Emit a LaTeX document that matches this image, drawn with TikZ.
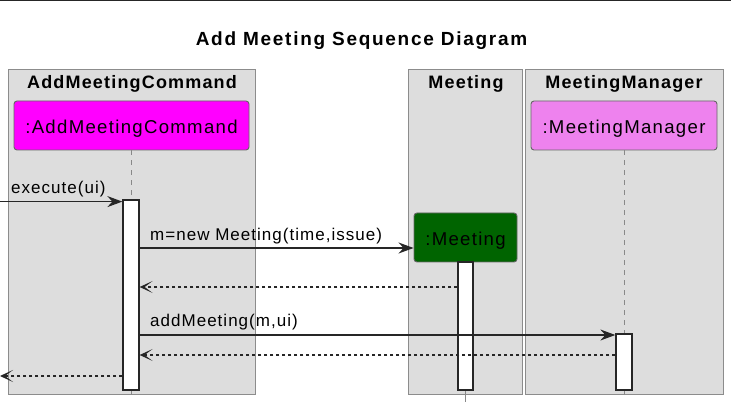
\documentclass[tikz,border=0pt]{standalone}
\usepackage{fontspec}
\setmainfont{Liberation Sans}
\newfontfamily\tsp{Liberation Sans}[LetterSpace=9]
\newfontfamily\bsp{Liberation Sans}[LetterSpace=6.5]
\newfontfamily\rsp{Liberation Sans}[LetterSpace=7]
\newfontfamily\msp{Liberation Sans}[LetterSpace=6]
\usetikzlibrary{arrows.meta}
\definecolor{boxgray}{HTML}{DDDDDD}
\definecolor{boxline}{HTML}{8C8C8C}
\definecolor{partline}{HTML}{666666}
\definecolor{lifegray}{HTML}{888888}
\definecolor{dark}{HTML}{262626}
\definecolor{pmagenta}{HTML}{FF00FF}
\definecolor{pviolet}{HTML}{EE82EE}
\definecolor{pgreen}{HTML}{006400}
\begin{document}
\begin{tikzpicture}[x=1pt,y=-1pt,
  lane/.style={draw=boxline, fill=boxgray, line width=0.9pt, inner sep=0pt, anchor=north west},
  part/.style={draw=partline, rounded corners=3pt, line width=0.9pt, minimum height=49pt, inner sep=0pt,
    text height=17pt, text depth=0pt, font=\rsp\fontsize{18.6}{22}\selectfont},
  hdr/.style={anchor=base, font=\bsp\bfseries\fontsize{18}{21}\selectfont, inner sep=0pt},
  ttl/.style={anchor=base, font=\tsp\bfseries\fontsize{19}{23}\selectfont, inner sep=0pt},
  life/.style={draw=lifegray, dash pattern=on 5pt off 5pt, line width=1pt},
  act/.style={draw=dark, fill=white, line width=1.3pt, inner sep=0pt},
  msg/.style={draw=dark, line width=1.3pt, -{Stealth[length=15pt,width=11pt,inset=5pt]}},
  ret/.style={draw=dark, line width=1.3pt, dash pattern=on 3pt off 3pt, -{Stealth[length=13pt,width=12pt,inset=8pt]}},
  lbl/.style={anchor=base west, font=\msp\fontsize{17}{20}\selectfont, inner sep=0pt}]
\useasboundingbox (0,0) rectangle (731,411);
\draw[dark, line width=1.5pt] (0,0.75) -- (731,0.75);
\node[ttl] (title) at (361.5,46) {Add Meeting Sequence Diagram};
% lanes
\node[lane, minimum width=247pt, minimum height=325pt] (laneA) at (8,69) {};
\node[lane, minimum width=114pt, minimum height=325pt] (laneM) at (408,69) {};
\node[lane, minimum width=198pt, minimum height=325pt] (laneMM) at (525,69) {};
\node[hdr] (hA) at (132,89) {AddMeetingCommand};
\node[hdr] (hM) at (466,89) {Meeting};
\node[hdr] (hMM) at (624,89) {MeetingManager};
% participants
\node[part, fill=pmagenta, minimum width=235pt] (pA) at (131.5,125.5) {:AddMeetingCommand};
\node[part, fill=pviolet, minimum width=186pt] (pMM) at (624,125.5) {:MeetingManager};
\node[part, fill=pgreen, minimum width=103pt] (pM) at (465.5,237.5) {:Meeting};
% lifelines
\coordinate (endA) at (131.5,398);
\coordinate (endM) at (465.5,402);
\coordinate (endMM) at (624,398);
\draw[life] (pA.south) -- (endA);
\draw[life] (pMM.south) -- (endMM);
\draw[lifegray, line width=1pt] (pM.south) -- (endM);
% activations
\node[act, minimum width=16pt, minimum height=190pt] (aA) at (131,295) {};
\node[act, minimum width=15pt, minimum height=128pt] (aM) at (465.5,326) {};
\node[act, minimum width=16pt, minimum height=56pt] (aMM) at (624,362) {};
% messages
\coordinate (in) at (0,201.6);
\coordinate (out) at (0,376);
\coordinate (y1) at (0,248);
\coordinate (y2) at (0,287);
\coordinate (y3) at (0,335);
\coordinate (y4) at (0,355);
\draw[msg] (in) -- (aA.west |- in);
\node[lbl] (l1) at (11,194) {execute(ui)};
\draw[msg] (aA.east |- y1) -- (pM.west |- y1);
\node[lbl] (l2) at (150,240.5) {m=new Meeting(time,issue)};
\draw[ret] (aM.west |- y2) -- (aA.east |- y2);
\draw[msg] (aA.east |- y3) -- (aMM.west |- y3);
\node[lbl] (l3) at (150,327) {addMeeting(m,ui)};
\draw[ret] (aMM.west |- y4) -- (aA.east |- y4);
\draw[ret] (aA.west |- out) -- (out);
\end{tikzpicture}
\end{document}
